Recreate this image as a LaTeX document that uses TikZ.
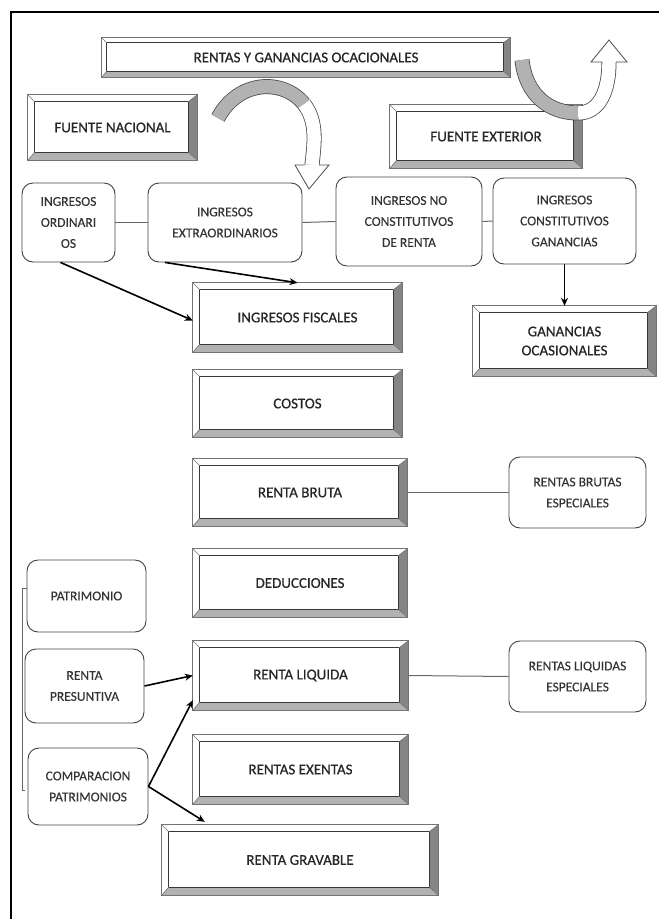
\documentclass[tikz,border=0pt]{standalone}
\usepackage{fontspec}
\setmainfont{Carlito}
\newfontfamily\bevfont{Carlito}[FakeBold=0.6]
\newfontfamily\rndfont{Carlito}[FakeBold=0.2]
\usetikzlibrary{calc,arrows.meta}

% Draws the bevelled frame around a named rectangular node.
% #1 = bevel depth, #2 = node name
\newcommand\bevelize[2][8]{%
  \path (#2.north west) coordinate (o1) (#2.north east) coordinate (o2)
        (#2.south east) coordinate (o3) (#2.south west) coordinate (o4);
  \path ($(o1)+(#1-1,#1-1)$) coordinate (i1) ($(o2)+(-#1-1,#1-1)$) coordinate (i2)
        ($(o3)+(-#1-1,-#1)$) coordinate (i3) ($(o4)+(#1-1,-#1)$) coordinate (i4);
  \fill[black!48] (o2) -- (o3) -- (i3) -- (i2) -- cycle;
  \fill[black!30] (o4) -- (o3) -- (i3) -- (i4) -- cycle;
  \draw[black!55, line width=0.8pt] (o1) rectangle (o3);
  \draw[black!78, line width=1pt] (i1) rectangle (i3);
  \draw[black!55, line width=0.6pt] (o1) -- (i1) (o2) -- (i2) (o3) -- (i3) (o4) -- (i4);
}

\begin{document}
\begin{tikzpicture}[x=1pt,y=-1pt,
  bevelbox/.style={rectangle, inner sep=0pt, align=center, text=black!85,
    font=\bevfont\fontsize{15}{19}\selectfont},
  roundbox/.style={rectangle, rounded corners=11pt, draw=black!75, line width=0.9pt,
    inner sep=0pt, align=center, text=black!80, font=\rndfont\fontsize{13.5}{21}\selectfont},
  link/.style={draw=black!60, line width=1pt},
  flow/.style={draw=black, line width=1.6pt, -{Stealth[length=8pt,width=7pt]}},
  bandout/.style={draw=black!70, line width=15pt},
  bandgray/.style={draw=black!30, line width=13.4pt},
  bandwhite/.style={draw=white, line width=13.4pt},
  headline/.style={draw=black!70, line width=0.8pt, line join=miter},
]
\useasboundingbox (0,0) rectangle (659,919);

% page frame (top and left rules)
\draw[line width=1.4pt] (11,919) -- (11,12) -- (659,12);

% ---- bevelled boxes ----
\node[bevelbox, minimum width=408, minimum height=39] (top) at (306,57.5) {RENTAS Y GANANCIAS OCACIONALES};
\node[bevelbox, minimum width=169, minimum height=65] (fn)  at (112.5,127.5) {FUENTE NACIONAL};
\node[bevelbox, minimum width=192, minimum height=63] (fe)  at (486,136.5) {FUENTE EXTERIOR};
\node[bevelbox, minimum width=209, minimum height=69] (fis) at (297.5,317.5) {INGRESOS FISCALES};
\node[bevelbox, minimum width=183, minimum height=70] (go)  at (564.5,341) {GANANCIAS\\OCASIONALES};
\node[bevelbox, minimum width=209, minimum height=67] (cos) at (297.5,403.5) {COSTOS};
\node[bevelbox, minimum width=214, minimum height=67] (rb)  at (300,492.5) {RENTA BRUTA};
\node[bevelbox, minimum width=214, minimum height=68] (ded) at (300,583) {DEDUCCIONES};
\node[bevelbox, minimum width=215, minimum height=69] (rl)  at (300.5,675.5) {RENTA LIQUIDA};
\node[bevelbox, minimum width=215, minimum height=69] (rex) at (300.5,769.5) {RENTAS EXENTAS};
\node[bevelbox, minimum width=276, minimum height=70] (rg)  at (300,860) {RENTA GRAVABLE};

\bevelize[6]{top}
\foreach \n in {fn,fe,fis,go,cos,rb,ded,rl,rex,rg} {\bevelize{\n}}

% ---- rounded boxes ----
\node[roundbox, minimum width=93,  minimum height=79] (io)  at (68.5,222.5) {INGRESOS\\ORDINARI\\OS};
\node[roundbox, minimum width=154, minimum height=79] (ie)  at (225,222.5) {INGRESOS\\EXTRAORDINARIOS};
\node[roundbox, minimum width=146, minimum height=89] (inc) at (409,221.5) {INGRESOS NO\\CONSTITUTIVOS\\DE RENTA};
\node[roundbox, minimum width=143, minimum height=86] (ic)  at (564.5,221) {INGRESOS\\CONSTITUTIVOS\\GANANCIAS};
\node[roundbox, minimum width=137, minimum height=71] (rbe) at (577.5,492.5) {RENTAS BRUTAS\\ESPECIALES};
\node[roundbox, minimum width=137, minimum height=71] (rle) at (577.5,676.5) {RENTAS LIQUIDAS\\ESPECIALES};
\node[roundbox, minimum width=119, minimum height=72] (pat) at (86.5,596) {PATRIMONIO};
\node[roundbox, minimum width=119, minimum height=74] (rp)  at (84.5,686) {RENTA\\PRESUNTIVA};
\node[roundbox, minimum width=120, minimum height=77] (cp)  at (88,786.5) {COMPARACION\\PATRIMONIOS};

% ---- plain connectors ----
\draw[link] (io.east) -- (ie.west);
\draw[link] (ie.east) -- (inc.west);
\draw[link] (inc.east) -- (ic.west);
\draw[link] (rb.east) -- (rbe.west);
\draw[link] (rl.east) -- (rle.west);
% bracket joining the three boxes on the left
\coordinate (brt) at (22,588);
\coordinate (brb) at (22,790);
\draw[link] ($(pat.west)+(0,-8)$) -- (brt) -- (brb) -- ++(3,0);

% ---- arrows ----
\draw[flow] ($(io.south)+(-8,0)$) -- ($(fis.west)+(0,3)$);
\draw[flow] ($(ie.south)+(-60,0)$) -- (fis.north);
\draw[flow] (ic.south) -- (go.north);
\draw[flow] (rp.east) -- (rl.west);
\draw[flow] (cp.east) -- ($(rl.south west)+(0,-10)$);
\draw[flow] (cp.east) -- ($(rg.north west)+(43,-3)$);

% ---- U-turn ribbon arrow at the top right ----
\coordinate (ua) at (522,60);
\coordinate (ub) at (578,113);
\coordinate (uc) at (609,62);
\draw[bandout] (ua) .. controls (526,96) and (550,113) .. (ub);
\draw[bandgray] (ua) .. controls (526,96) and (550,113) .. (ub);
\draw[bandout] (ub) .. controls (600,113) and (609,90) .. (uc);
\fill[white] (591,62) -- (609,40) -- (627,62) -- cycle;
\draw[bandwhite] (ub) .. controls (600,113) and (609,90) .. (uc);
\draw[headline] (602,62) -- (591,62) -- (609,40) -- (627,62) -- (616,62);

% ---- curved ribbon arrow beside FUENTE NACIONAL ----
\coordinate (ca) at (218,118);
\coordinate (cb) at (304,104);
\coordinate (cc) at (312,165);
\draw[bandout] (ca) .. controls (238,80) and (283,78) .. (cb);
\draw[bandgray] (ca) .. controls (238,80) and (283,78) .. (cb);
\draw[bandout] (cb) .. controls (318,122) and (314,145) .. (cc);
\fill[white] (295,165) -- (309,189) -- (329,165) -- cycle;
\draw[bandwhite] (cb) .. controls (318,122) and (314,145) .. (cc);
\draw[headline] (305,165) -- (295,165) -- (309,189) -- (329,165) -- (319,165);
\end{tikzpicture}
\end{document}
